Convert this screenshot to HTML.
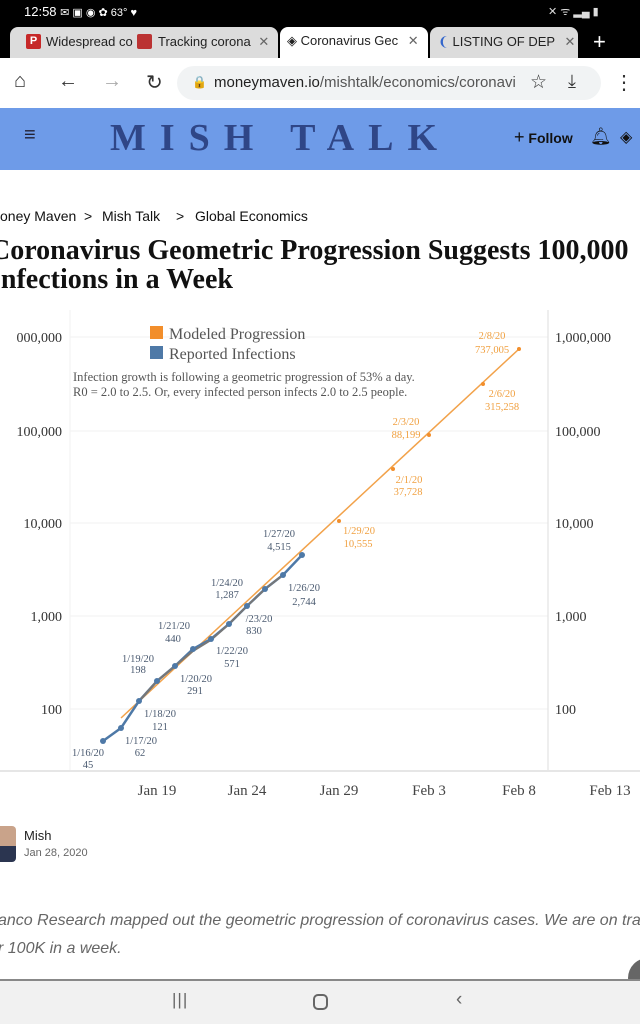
<!DOCTYPE html>
<html><head><meta charset="utf-8">
<style>
*{margin:0;padding:0;box-sizing:border-box}
body{width:640px;height:1024px;overflow:hidden;background:#fff;font-family:"Liberation Sans",sans-serif;position:relative}
.abs{position:absolute;white-space:nowrap}
</style></head><body>
<!-- status bar -->
<div class="abs" style="left:0;top:0;width:640px;height:58px;background:#000"></div>
<div class="abs" style="left:24px;top:4px;color:#fff;font-size:13px">12:58 <span style="font-size:11px">✉ ▣ ◉ ✿ 63° ♥</span></div>
<div class="abs" style="left:548px;top:4px;color:#ddd;font-size:11px">✕ ᯤ ▂▄ ▮</div>
<!-- tabs -->
<div class="abs" style="left:10px;top:27px;width:268px;height:31px;background:#dcdcdc;border-radius:8px 8px 0 0"></div>
<div class="abs" style="left:280px;top:27px;width:148px;height:31px;background:#fff;border-radius:8px 8px 0 0"></div>
<div class="abs" style="left:430px;top:27px;width:148px;height:31px;background:#dcdcdc;border-radius:8px 8px 0 0"></div>
<div class="abs" style="left:26px;top:34px;width:15px;height:15px;background:#c62828;border-radius:2px;color:#fff;font-size:11px;font-weight:bold;text-align:center;line-height:15px">P</div>
<div class="abs" style="left:46px;top:34px;font-size:13px;color:#222">Widespread co</div>
<div class="abs" style="left:137px;top:34px;width:15px;height:15px;background:#b33;border-radius:2px"></div>
<div class="abs" style="left:158px;top:34px;font-size:13px;color:#222">Tracking corona <span style="color:#666;margin-left:4px">✕</span></div>
<div class="abs" style="left:287px;top:33px;font-size:13px;color:#222">◈ Coronavirus Gec <span style="color:#666;margin-left:6px">✕</span></div>
<div class="abs" style="left:438px;top:34px;font-size:13px;color:#222"><span style="color:#36c">❨</span> LISTING OF DEP <span style="color:#666;margin-left:6px">✕</span></div>
<div class="abs" style="left:593px;top:29px;font-size:22px;color:#fff">+</div>
<!-- url bar -->
<div class="abs" style="left:14px;top:70px;font-size:20px;color:#333">⌂</div>
<div class="abs" style="left:58px;top:70px;font-size:20px;color:#333">←</div>
<div class="abs" style="left:102px;top:70px;font-size:20px;color:#aaa">→</div>
<div class="abs" style="left:146px;top:70px;font-size:20px;color:#333">↻</div>
<div class="abs" style="left:177px;top:66px;width:424px;height:34px;background:#f1f3f4;border-radius:17px"></div>
<div class="abs" style="left:192px;top:75px;font-size:12px;color:#333">🔒</div>
<div class="abs" style="left:214px;top:74px;font-size:15px;color:#555"><span style="color:#222">moneymaven.io</span>/mishtalk/economics/coronavi</div>
<div class="abs" style="left:530px;top:71px;font-size:19px;color:#333">☆</div>
<div class="abs" style="left:568px;top:71px;font-size:18px;color:#333">⤓</div>
<div class="abs" style="left:614px;top:70px;font-size:20px;color:#333">⋮</div>
<!-- header -->
<div class="abs" style="left:0;top:108px;width:640px;height:62px;background:#6e9be8"></div>
<div class="abs" style="left:24px;top:124px;font-size:20px;color:#223">≡</div>
<div class="abs" style="left:110px;top:116px;font-family:'Liberation Serif',serif;font-weight:bold;font-size:38px;color:#2f4687;letter-spacing:14px">MISH TALK</div>
<div class="abs" style="left:514px;top:127px;font-size:14px;color:#111;font-weight:bold"><span style="font-size:18px;font-weight:normal">+</span> Follow</div>
<div class="abs" style="left:590px;top:127px;font-size:17px;color:#111">🔔︎</div>
<div class="abs" style="left:620px;top:127px;font-size:16px;color:#111">◈</div>
<!-- breadcrumb -->
<div class="abs" style="left:0;top:208px;font-size:14px;color:#111">oney Maven</div>
<div class="abs" style="left:84px;top:208px;font-size:14px;color:#111">&gt;</div>
<div class="abs" style="left:102px;top:208px;font-size:14px;color:#111">Mish Talk</div>
<div class="abs" style="left:176px;top:208px;font-size:14px;color:#111">&gt;</div>
<div class="abs" style="left:195px;top:208px;font-size:14px;color:#111">Global Economics</div>
<!-- title -->
<div class="abs" style="left:-10px;top:236px;font-family:'Liberation Serif',serif;font-weight:bold;font-size:28px;color:#111;line-height:29px">Coronavirus Geometric Progression Suggests 100,000<br>Infections in a Week</div>
<!-- chart -->
<svg class="abs" style="left:0;top:300px" width="640" height="500" viewBox="0 300 640 500" font-family="Liberation Serif,serif">
<g stroke="#f2f2f2" stroke-width="1">
<line x1="70" y1="337" x2="548" y2="337"/><line x1="70" y1="431" x2="548" y2="431"/><line x1="70" y1="523" x2="548" y2="523"/><line x1="70" y1="616" x2="548" y2="616"/><line x1="70" y1="709" x2="548" y2="709"/>
<line x1="70" y1="310" x2="70" y2="770"/>
</g>
<line x1="548" y1="310" x2="548" y2="770" stroke="#ddd"/>
<line x1="0" y1="771" x2="640" y2="771" stroke="#ccc"/>
<g font-size="14" fill="#333" text-anchor="end">
<text x="62" y="342">000,000</text><text x="62" y="436">100,000</text><text x="62" y="528">10,000</text><text x="62" y="621">1,000</text><text x="62" y="714">100</text>
</g>
<g font-size="14" fill="#333">
<text x="555" y="342">1,000,000</text><text x="555" y="436">100,000</text><text x="555" y="528">10,000</text><text x="555" y="621">1,000</text><text x="555" y="714">100</text>
</g>
<g font-size="15" fill="#444" text-anchor="middle">
<text x="157" y="795">Jan 19</text><text x="247" y="795">Jan 24</text><text x="339" y="795">Jan 29</text><text x="429" y="795">Feb 3</text><text x="519" y="795">Feb 8</text><text x="610" y="795">Feb 13</text>
</g>
<rect x="150" y="326" width="13" height="13" fill="#f28e2b"/>
<rect x="150" y="346" width="13" height="13" fill="#4e79a7"/>
<text x="169" y="339" font-size="16" fill="#555">Modeled Progression</text>
<text x="169" y="359" font-size="16" fill="#555">Reported Infections</text>
<text x="73" y="381" font-size="12.5" fill="#555">Infection growth is following a geometric progression of 53% a day.</text>
<text x="73" y="396" font-size="12.5" fill="#555">R0 = 2.0 to 2.5. Or, every infected person infects 2.0 to 2.5 people.</text>
<line x1="121" y1="718" x2="519" y2="349" stroke="#f2a24a" stroke-width="1.5"/>
<g fill="#f28e2b"><circle cx="339" cy="521" r="2"/><circle cx="393" cy="469" r="2"/><circle cx="429" cy="435" r="2"/><circle cx="483" cy="384" r="2"/><circle cx="519" cy="349" r="2"/></g>
<polyline fill="none" stroke="#4e79a7" stroke-width="2.5" points="103,741 121,728 139,701 157,681 175,666 193,649 211,639 229,624 247,606 265,589 283,575 302,555"/>
<polyline fill="none" stroke="#777" stroke-width="2" points="139,701 157,681 175,666 193,651 211,640 229,624 247,606 265,589 283,575"/>
<g fill="#4e79a7"><circle cx="103" cy="741" r="3"/><circle cx="121" cy="728" r="3"/><circle cx="139" cy="701" r="3"/><circle cx="157" cy="681" r="3"/><circle cx="175" cy="666" r="3"/><circle cx="193" cy="649" r="3"/><circle cx="211" cy="639" r="3"/><circle cx="229" cy="624" r="3"/><circle cx="247" cy="606" r="3"/><circle cx="265" cy="589" r="3"/><circle cx="283" cy="575" r="3"/><circle cx="302" cy="555" r="3"/></g>
<g font-size="10.5" fill="#f0a040" text-anchor="middle">
<text x="492" y="339">2/8/20</text><text x="492" y="353">737,005</text>
<text x="502" y="397">2/6/20</text><text x="502" y="410">315,258</text>
<text x="406" y="425">2/3/20</text><text x="406" y="438">88,199</text>
<text x="409" y="483">2/1/20</text><text x="408" y="495">37,728</text>
<text x="359" y="534">1/29/20</text><text x="358" y="547">10,555</text>
</g>
<g font-size="10.5" fill="#4a5a70" text-anchor="middle">
<text x="279" y="537">1/27/20</text><text x="279" y="550">4,515</text>
<text x="227" y="586">1/24/20</text><text x="227" y="598">1,287</text>
<text x="304" y="591">1/26/20</text><text x="304" y="605">2,744</text>
<text x="259" y="622">/23/20</text><text x="254" y="634">830</text>
<text x="174" y="629">1/21/20</text><text x="173" y="642">440</text>
<text x="232" y="654">1/22/20</text><text x="232" y="667">571</text>
<text x="138" y="662">1/19/20</text><text x="138" y="673">198</text>
<text x="196" y="682">1/20/20</text><text x="195" y="694">291</text>
<text x="160" y="717">1/18/20</text><text x="160" y="730">121</text>
<text x="141" y="744">1/17/20</text><text x="140" y="756">62</text>
<text x="88" y="756">1/16/20</text><text x="88" y="768">45</text>
</g>
</svg>
<!-- author -->
<div class="abs" style="left:0;top:826px;width:16px;height:36px;background:linear-gradient(#c9a38a 0 55%,#2b3550 55%);border-radius:0 4px 4px 0"></div>
<div class="abs" style="left:24px;top:828px;font-size:13px;color:#222">Mish</div>
<div class="abs" style="left:24px;top:847px;font-size:11px;color:#666">Jan 28, 2020</div>
<!-- paragraph -->
<div class="abs" style="left:-2px;top:907px;font-size:16px;font-style:italic;color:#666;line-height:28px">anco Research mapped out the geometric progression of coronavirus cases. We are on tra<br>r 100K in a week.</div>
<div class="abs" style="left:628px;top:958px;width:40px;height:40px;border-radius:50%;background:#666"></div>
<!-- nav -->
<div class="abs" style="left:0;top:979px;width:640px;height:45px;background:#f1f1f1;border-top:2px solid #888"></div>
<div class="abs" style="left:172px;top:990px;font-size:17px;color:#666;letter-spacing:1px">|||</div>
<div class="abs" style="left:313px;top:994px;width:15px;height:16px;border:2px solid #666;border-radius:5px"></div>
<div class="abs" style="left:456px;top:989px;font-size:19px;color:#666">‹</div>
</body></html>
